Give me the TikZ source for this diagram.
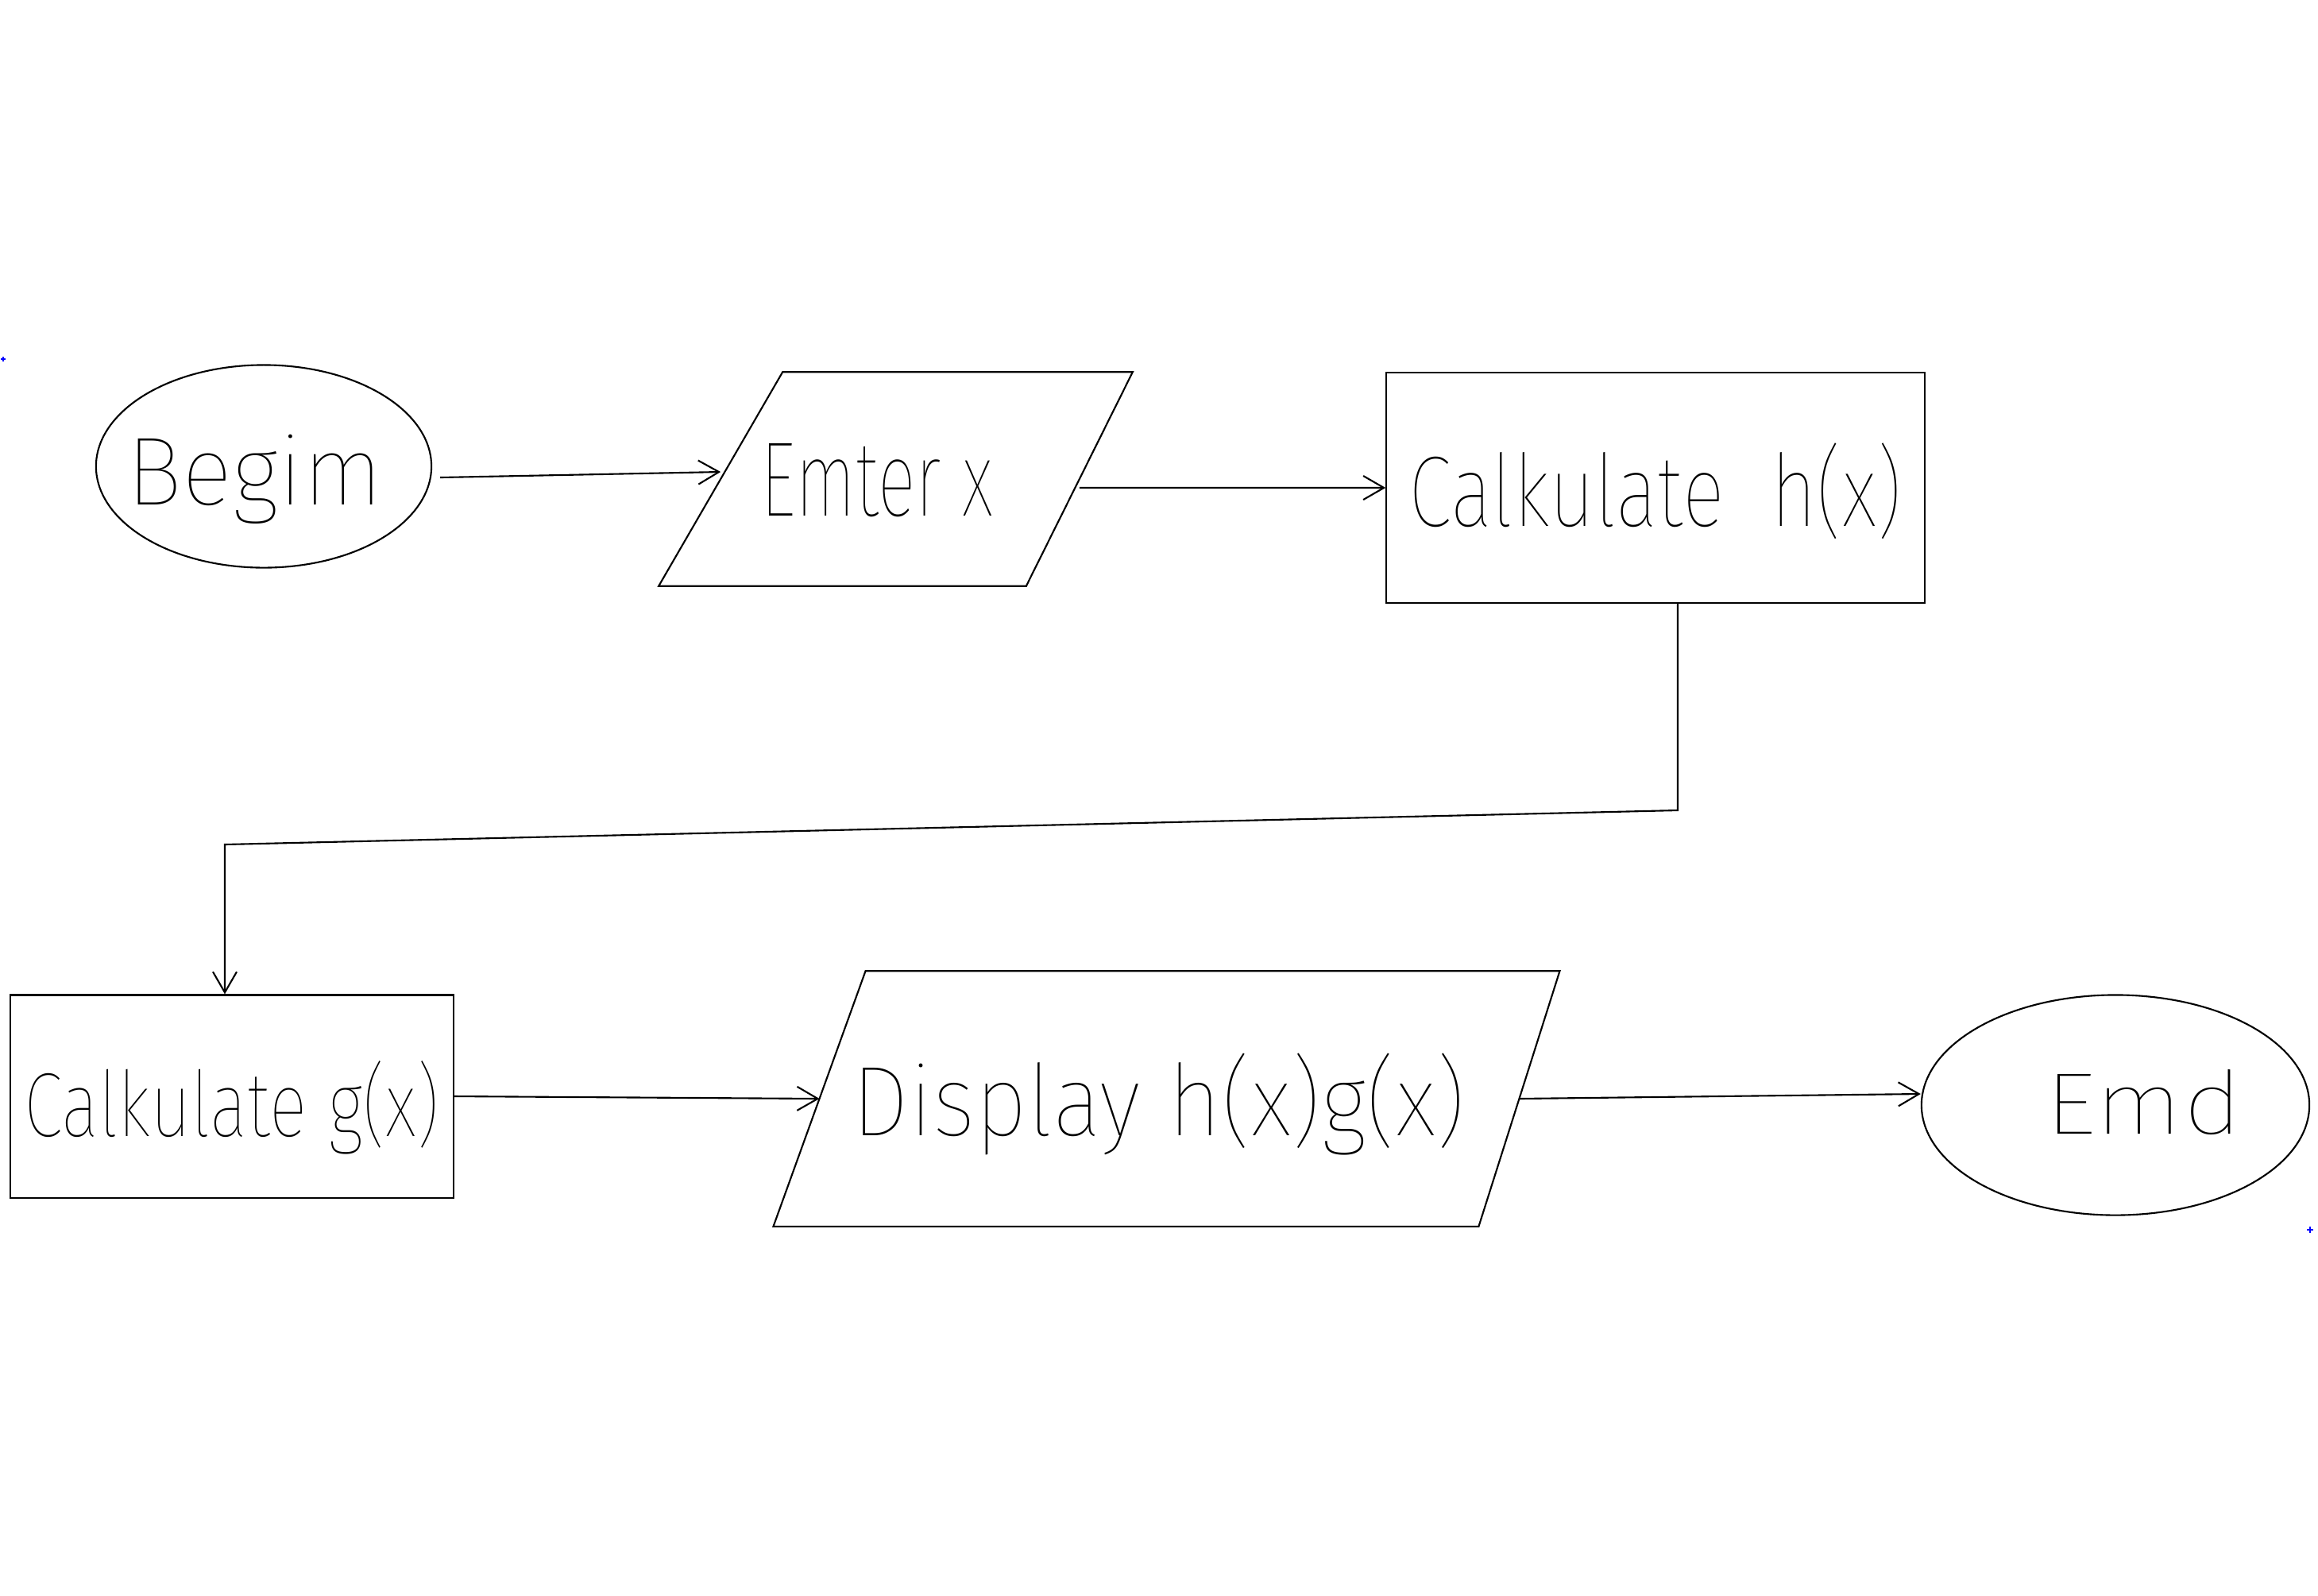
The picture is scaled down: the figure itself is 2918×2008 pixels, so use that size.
\documentclass[tikz,border=0pt]{standalone}
\usepackage{fontspec}
\usepackage{graphicx}
\usetikzlibrary{shapes.geometric,arrows.meta}
\newfontfamily\handfont{Fira Sans Thin}
% #1 horizontal offset, #2 baseline drop, #3 width, #4 cap height, #5 text;
% the result takes no room, so the shapes keep their own sizes
\newcommand{\hw}[5]{\makebox[0pt]{\hspace*{#1}\hspace*{#1}%
  \raisebox{-#2}[0pt][0pt]{\resizebox{#3}{#4}{\handfont\raisebox{0pt}[0pt][0pt]{#5}\vphantom{E}}}}}
\begin{document}
\begin{tikzpicture}[x=0.01cm,y=-0.01cm,
  outline/.style={draw, line width=0.6pt, inner sep=0pt},
  terminal/.style={outline, ellipse},
  process/.style={outline, rectangle},
  iobody/.style={rectangle, inner sep=0pt},
  link/.style={line width=0.6pt, -{Straight Barb[length=2.6mm,width=3mm,line width=0.6pt]}},
  cornermark/.style={blue, line width=0.4pt}]
\useasboundingbox (0,0) rectangle (2918,2008);

% first row
\node[terminal, minimum width=4.22cm, minimum height=2.55cm] (begin) at (332,587)
  {\hw{-0.11cm}{0.48cm}{3.22cm}{0.83cm}{Begim}};
\node[iobody, minimum width=4.5cm, minimum height=2.68cm] (enter) at (1133,603)
  {\hw{-0.29cm}{0.46cm}{2.92cm}{0.91cm}{Emter x}};
\draw[outline] ([xshift=0.78cm]enter.north west) -- ([xshift=0.67cm]enter.north east)
  -- ([xshift=-0.67cm]enter.south east) -- ([xshift=-0.78cm]enter.south west) -- cycle;
\node[process, minimum width=6.77cm, minimum height=2.9cm] (calch) at (2084,614)
  {\hw{0cm}{0.48cm}{6.2cm}{0.86cm}{Calkulate\ \ h(x)}};

% second row
\node[process, minimum width=5.58cm, minimum height=2.55cm] (calcg) at (292,1380)
  {\hw{0cm}{0.5cm}{5.22cm}{0.78cm}{Calkulate g(x)}};
\node[iobody, minimum width=8.79cm, minimum height=3.2cm] (disp) at (1472,1383)
  {\hw{-0.13cm}{0.46cm}{7.72cm}{0.85cm}{Display h(x)g(x)}};
\draw[outline] ([xshift=0.58cm]disp.north west) -- ([xshift=0.51cm]disp.north east)
  -- ([xshift=-0.51cm]disp.south east) -- ([xshift=-0.58cm]disp.south west) -- cycle;
\node[terminal, minimum width=4.88cm, minimum height=2.77cm] (end) at (2663,1391)
  {\hw{0.36cm}{0.36cm}{2.48cm}{0.75cm}{Emd}};

% bends of the long connector
\coordinate (k1) at (2112,1020);
\coordinate (k2) at (283,1063);

% connectors
\draw[link] ([xshift=0.1cm,yshift=-0.14cm]begin.east) -- ([yshift=0.09cm]enter.west);
\draw[link] ([yshift=-0.11cm]enter.east) -- (calch.west);
\draw[link] (k1 |- calch.south) -- (k1) -- (k2) -- (k2 |- calcg.north);
\draw[link] (calcg.east) -- (disp.west);
\draw[link] (disp.east) -- ([yshift=0.14cm]end.west);

% small blue marks at the corners of the sheet
\draw[cornermark] (1,452) -- (7,452) (4,449) -- (4,455);
\draw[cornermark] (2904,1548) -- (2912,1548) (2908,1544) -- (2908,1552);
\end{tikzpicture}
\end{document}
